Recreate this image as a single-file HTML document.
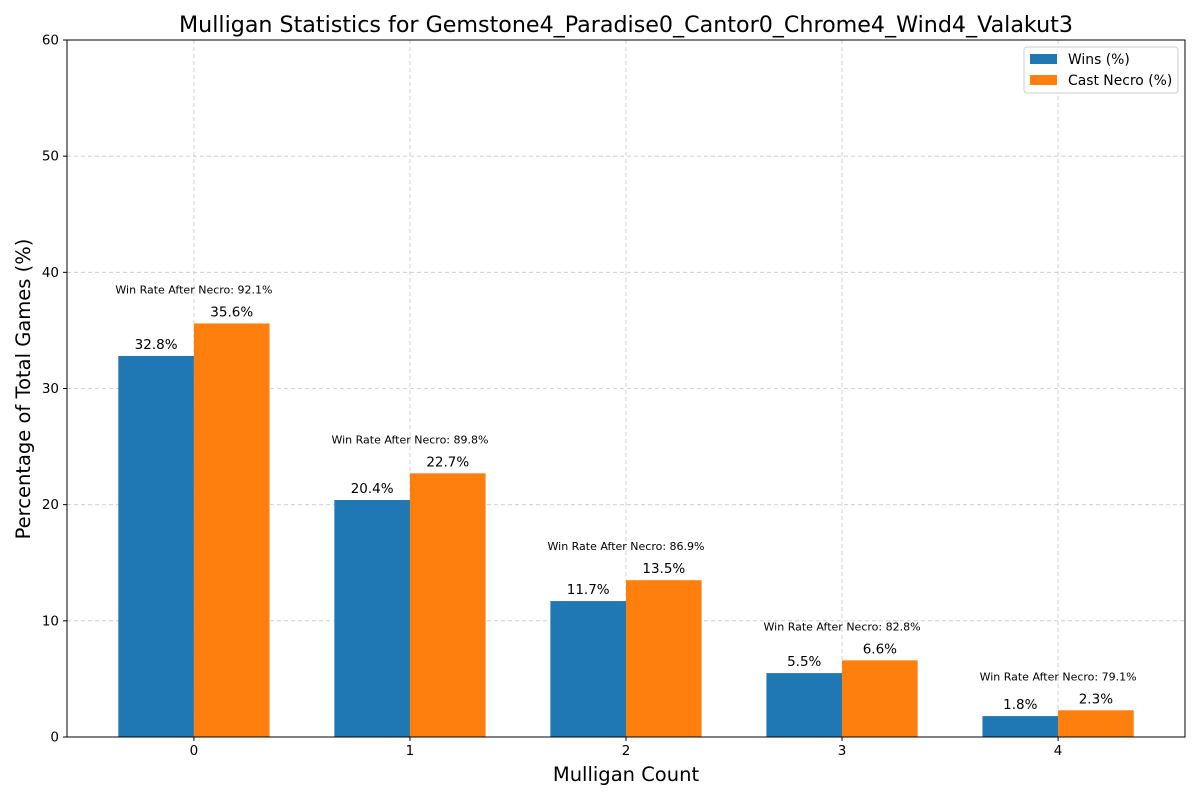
<!DOCTYPE html>
<html><head><meta charset="utf-8"><style>body{margin:0;background:#fff}svg{display:block;font-family:"DejaVu Sans","Liberation Sans",sans-serif}</style></head>
<body>
<svg id="chart" width="1200" height="800" xmlns="http://www.w3.org/2000/svg"></svg>
<script>
const categories=["0","1","2","3","4"];
const wins=[32.8,20.4,11.7,5.5,1.8];
const castNecro=[35.6,22.7,13.5,6.6,2.3];
const winRateAfter=[92.1,89.8,86.9,82.8,79.1];
const yTicks=[0,10,20,30,40,50,60];

const L=67,R=1185,T=40,B=737;
const xMin=-0.5875,xMax=4.5875,yMin=0,yMax=60;
const xs=v=>L+(v-xMin)/(xMax-xMin)*(R-L);
const ys=v=>B-(v-yMin)/(yMax-yMin)*(B-T);
const svg=document.getElementById('chart');
const NS="http://www.w3.org/2000/svg";
function mk(tag,attrs,text){const e=document.createElementNS(NS,tag);for(const k in attrs)e.setAttribute(k,attrs[k]);if(text!==undefined)e.textContent=text;svg.appendChild(e);return e;}

yTicks.forEach(t=>{
  const g=mk('line',{x1:L,x2:R,y1:ys(t),y2:ys(t),stroke:'#b0b0b0','stroke-width':0.8,'stroke-dasharray':'4,3',opacity:0.7});
  
  
  const tk=mk('line',{x1:L-4,x2:L,y1:ys(t),y2:ys(t),stroke:'#000'});
  
  
  const lb=mk('text',{x:L-8,y:ys(t)+4.5,'text-anchor':'end','font-size':13.5},String(t));
  
  
});
categories.forEach((c,i)=>{
  const g=mk('line',{x1:xs(i),x2:xs(i),y1:T,y2:B,stroke:'#b0b0b0','stroke-width':0.8,'stroke-dasharray':'4,3',opacity:0.7});
  
  
});
const w=0.35;
categories.forEach((c,i)=>{
  const b1=mk('rect',{x:xs(i-w),y:ys(wins[i]),width:xs(i)-xs(i-w),height:ys(0)-ys(wins[i]),fill:'#1f77b4'});
  
  
  const b2=mk('rect',{x:xs(i),y:ys(castNecro[i]),width:xs(i+w)-xs(i),height:ys(0)-ys(castNecro[i]),fill:'#ff7f0e'});
  
  
  const l1=mk('text',{x:xs(i-w/2),y:ys(wins[i])-7,'text-anchor':'middle','font-size':13.5},wins[i].toFixed(1)+'%');
  
  
  const l2=mk('text',{x:xs(i+w/2),y:ys(castNecro[i])-7,'text-anchor':'middle','font-size':13.5},castNecro[i].toFixed(1)+'%');
  
  
  const mx=Math.max(wins[i],castNecro[i]);
  const l3=mk('text',{x:xs(i),y:ys(mx)-30,'text-anchor':'middle','font-size':11},'Win Rate After Necro: '+winRateAfter[i].toFixed(1)+'%');
  
  
  const tk=mk('line',{x1:xs(i),x2:xs(i),y1:B,y2:B+4,stroke:'#000'});
  
  
  const xl=mk('text',{x:xs(i),y:B+18,'text-anchor':'middle','font-size':13.5},c);
  
  
});
const frame=mk('rect',{x:L,y:T,width:R-L,height:B-T,fill:'none',stroke:'#000','stroke-width':1});


</script>
<svg style="position:absolute;left:0;top:0" width="1200" height="800" xmlns="http://www.w3.org/2000/svg">
<text x="626" y="32" text-anchor="middle" font-size="22.2" font-family="DejaVu Sans, sans-serif">Mulligan Statistics for Gemstone4_Paradise0_Cantor0_Chrome4_Wind4_Valakut3</text>
<text x="626" y="781" text-anchor="middle" font-size="19.5" font-family="DejaVu Sans, sans-serif">Mulligan Count</text>
<text transform="translate(30,389) rotate(-90)" text-anchor="middle" font-size="19.5" font-family="DejaVu Sans, sans-serif">Percentage of Total Games (%)</text>
<g font-family="DejaVu Sans, sans-serif" font-size="13.9">
<rect x="1024" y="47" width="154" height="46" rx="3" fill="#fff" fill-opacity="0.8" stroke="#ccc"/>
<rect x="1030" y="54" width="27" height="10" fill="#1f77b4"/>
<text x="1068" y="64">Wins (%)</text>
<rect x="1030" y="75" width="27" height="10" fill="#ff7f0e"/>
<text x="1068" y="85">Cast Necro (%)</text>
</g>
</svg>
</body></html>
